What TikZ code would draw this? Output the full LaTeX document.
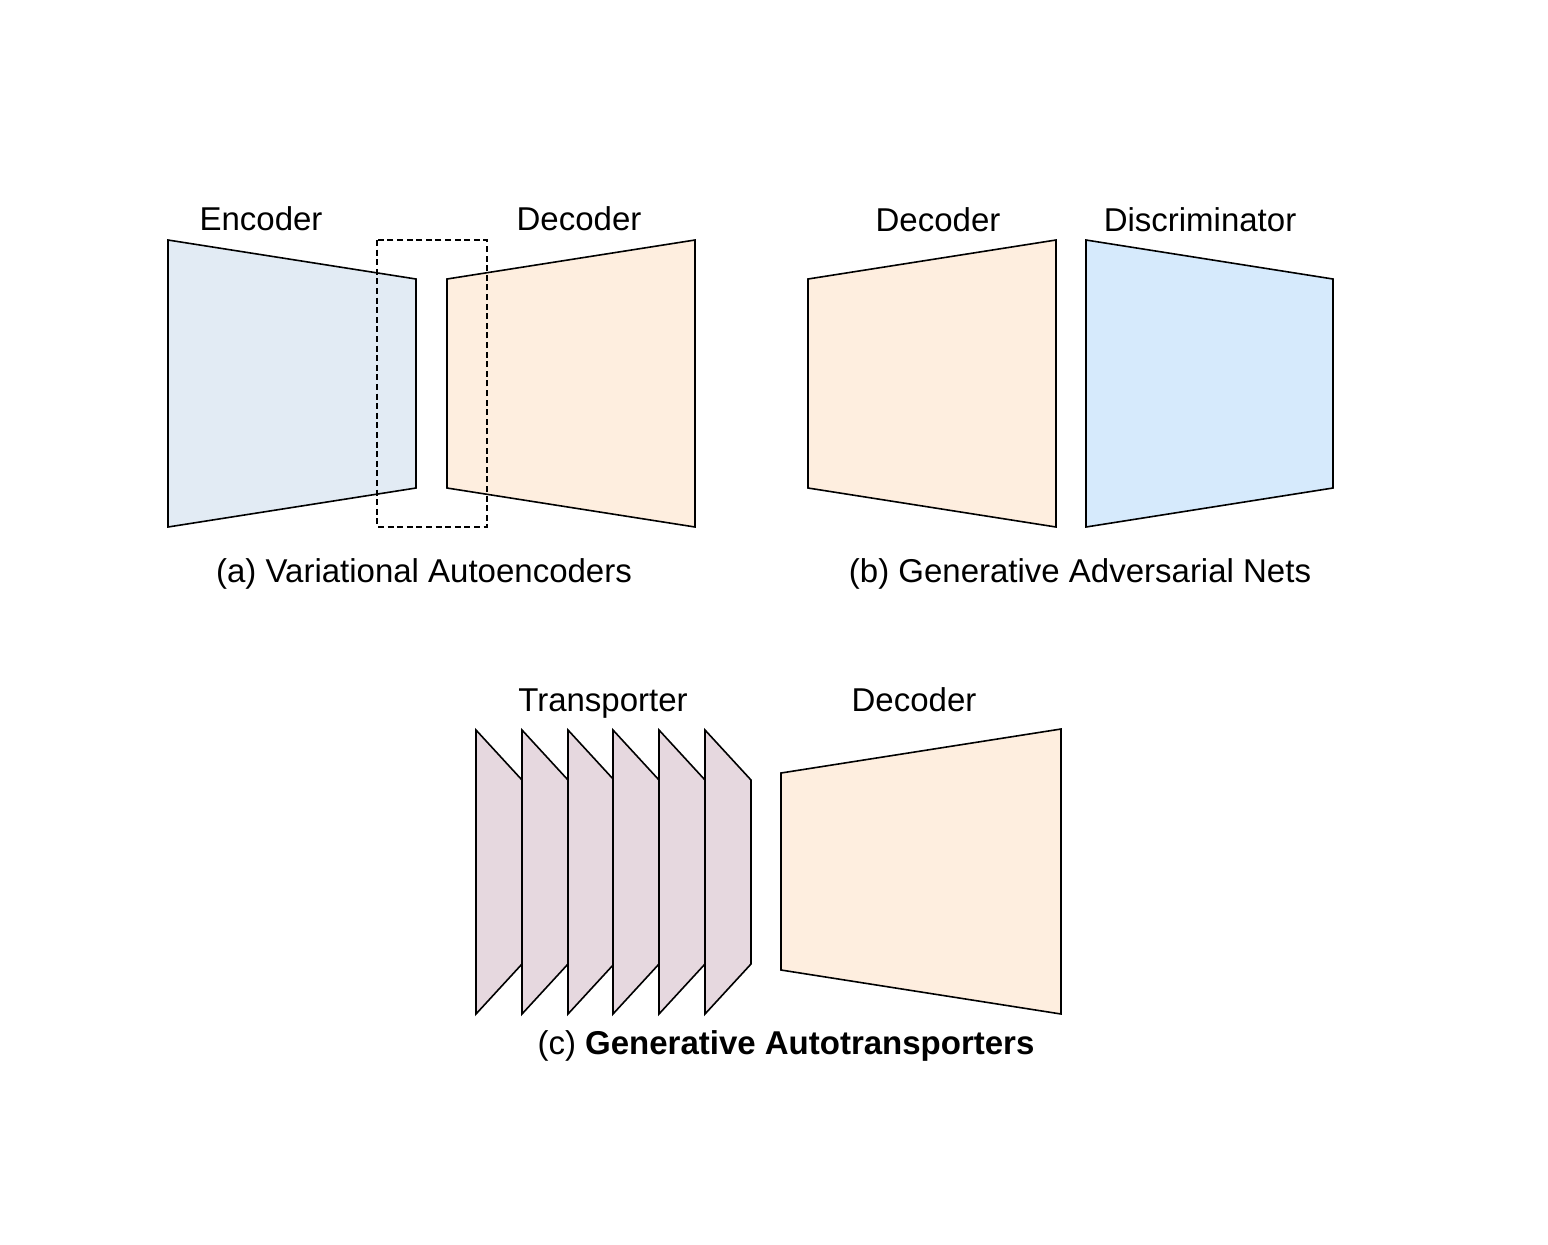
\documentclass[tikz,border=0pt]{standalone}
\usepackage{fontspec}
\setmainfont{Liberation Sans}
\definecolor{encFill}{HTML}{E2EBF4}
\definecolor{decFill}{HTML}{FEEEDF}
\definecolor{disFill}{HTML}{D6EAFC}
\definecolor{traFill}{HTML}{E6D8DF}
\begin{document}
\begin{tikzpicture}
    [x=0.5pt, y=-0.5pt,
     Block/.style={draw=black, line width=0.8pt, line join=miter},
     Label/.style={inner sep=0pt, anchor=base, font=\fontsize{16.5}{19}\selectfont},
     Caption/.style={inner sep=0pt, anchor=base, font=\fontsize{16.5}{19}\selectfont}]
    \useasboundingbox (0, 0) rectangle (1548, 1244);
    % (a) VAE
    \draw[Block, fill=encFill] (168, 240) -- (416, 279) -- (416, 488) -- (168, 527) -- cycle;
    \draw[Block, fill=decFill] (447, 279) -- (695, 240) -- (695, 527) -- (447, 488) -- cycle;
    \draw[line width=0.8pt, dash pattern=on 3pt off 1.8pt] (377, 240) rectangle (487, 527);
    \node[Label] (encA) at (261, 230){Encoder};
    \node[Label] (decA) at (579, 230){Decoder};
    \node[Caption] (capA) at (424, 582){(a) Variational Autoencoders};
    % (b) GAN
    \draw[Block, fill=decFill] (808, 279) -- (1056, 240) -- (1056, 527) -- (808, 488) -- cycle;
    \draw[Block, fill=disFill] (1086, 240) -- (1333, 279) -- (1333, 488) -- (1086, 527) -- cycle;
    \node[Label] (decB) at (938, 231){Decoder};
    \node[Label] (disB) at (1200, 231){Discriminator};
    \node[Caption] (capB) at (1080, 582){(b) Generative Adversarial Nets};
    % (c) GAT
    \foreach \x in {476, 522, 568, 613, 659, 705}
        \draw[Block, fill=traFill] (\x, 730) -- (\x+46, 780) -- (\x+46, 964) -- (\x, 1014) -- cycle;
    \draw[Block, fill=decFill] (781, 773) -- (1061, 729) -- (1061, 1014) -- (781, 970) -- cycle;
    \node[Label] (traC) at (603, 711){Transporter};
    \node[Label] (decC) at (914, 711){Decoder};
    \node[Caption] (capC) at (786, 1054){(c) \textbf{Generative Autotransporters}};
\end{tikzpicture}
\end{document}
